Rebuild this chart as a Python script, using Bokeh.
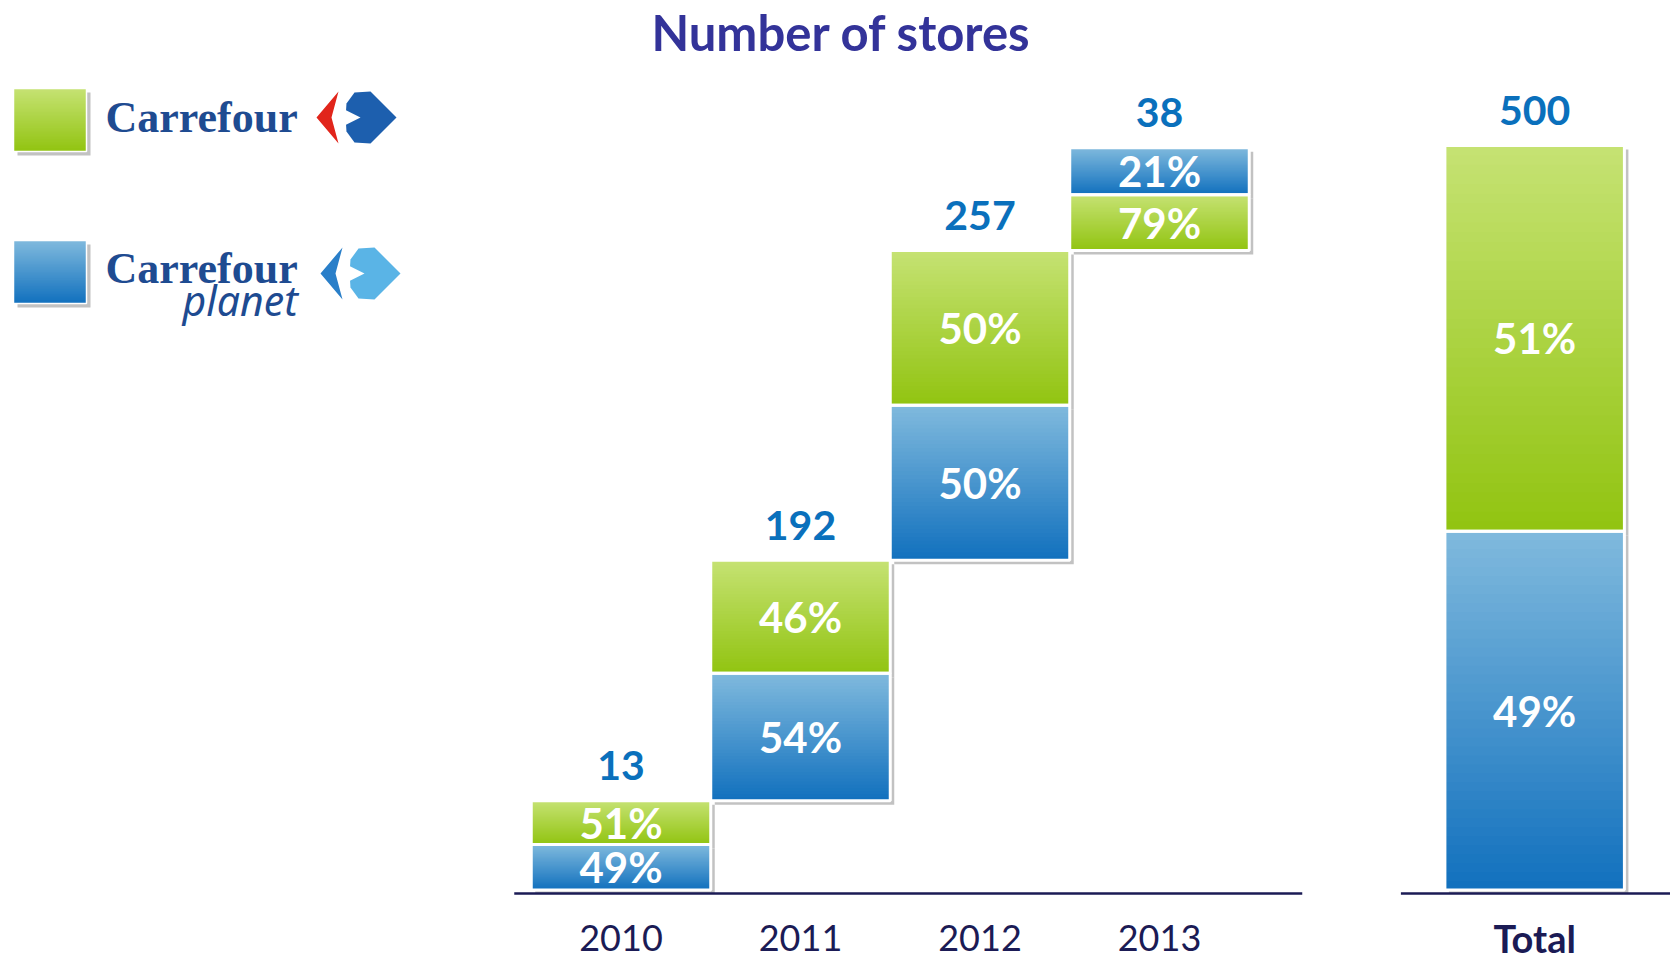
import numpy as np
from bokeh.plotting import figure
from bokeh.models import Range1d
from bokeh.embed import file_html
from bokeh.resources import INLINE
from bokeh.core.properties import value

# ---------------- data ----------------
categories = ["2010", "2011", "2012", "2013"]
total_category = "Total"
store_counts = [13, 192, 257, 38]
total_stores = 500
carrefour_share = ["51%", "46%", "50%", "79%", "51%"]
planet_share = ["49%", "54%", "50%", "21%", "49%"]
# drawn segment heights as shown on the slide (chart units, Total bar = 500)
carrefour_height = [29.5, 76, 104, 37.5, 259]
planet_height = [30.5, 85.5, 104, 31.5, 241]
planet_on_top = [False, False, False, True, False]
legend_names = ["Carrefour", "Carrefour planet"]

# ---------------- styles ----------------
GREEN_TOP, GREEN_BOT = (197, 226, 114), (146, 196, 18)
BLUE_TOP, BLUE_BOT = (127, 185, 221), (18, 113, 190)
SHADOW = "#C2C2C2"
NAVY = "#1B1B55"
COUNT_BLUE = "#0A70BC"
TITLE_COL = "#333399"
LOGO_BLUE = "#1E4B91"
FONT = value("Lato")

W, H = 1670, 959
SX = 179.5          # px per category slot
SY = 1.489          # px per chart unit
X_START = -620.5 / SX
X_END = X_START + W / SX
Y_END = 889.5 / SY
Y_START = Y_END - H / SY


def rx(px):
    return X_START + px / SX


def ry(py):
    return Y_END - py / SY


p = figure(width=W, height=H, x_range=Range1d(X_START, X_END), y_range=Range1d(Y_START, Y_END),
           output_backend="svg", toolbar_location=None, min_border=0,
           x_axis_location=None, y_axis_location=None)
p.grid.visible = False
p.outline_line_color = None
p.background_fill_color = "white"
p.border_fill_color = "white"

# ---------------- segment geometry ----------------
n = len(categories)
xpos = list(range(n)) + [n + 1.09]
segs = []  # (left, right, bottom, top, series, label)
cum = 0.0
bar_tops = []
for i in range(n + 1):
    base = cum if i < n else 0.0
    c_h, p_h = carrefour_height[i], planet_height[i]
    if planet_on_top[i]:
        order = [("g", c_h, carrefour_share[i]), ("b", p_h, planet_share[i])]
    else:
        order = [("b", p_h, planet_share[i]), ("g", c_h, carrefour_share[i])]
    b = base
    for s, h, lab in order:
        segs.append((xpos[i] - 0.5, xpos[i] + 0.5, b, b + h, s, lab))
        b += h
    bar_tops.append(b)
    if i < n:
        cum = b

dx, dy = 4 / SX, 4 / SY

# shadows
p.quad(left=[s[0] + dx for s in segs], right=[s[1] + dx for s in segs],
       bottom=[s[2] - dy for s in segs], top=[s[3] - dy for s in segs],
       fill_color=SHADOW, line_color=None)


def hexc(c):
    return "#%02x%02x%02x" % tuple(int(round(v)) for v in c)


def gradient(rects, N=40):
    L, R, B, T, C = [], [], [], [], []
    for (l, r, b, t, s) in rects:
        c0, c1 = (GREEN_TOP, GREEN_BOT) if s == "g" else (BLUE_TOP, BLUE_BOT)
        for j in range(N):
            f = j / (N - 1)
            L.append(l); R.append(r); B.append(b)
            T.append(t - (t - b) * j / N)
            C.append(hexc([c0[k] + (c1[k] - c0[k]) * f for k in range(3)]))
    p.quad(left=L, right=R, bottom=B, top=T, fill_color=C, line_color=None)


gradient([(s[0], s[1], s[2], s[3], s[4]) for s in segs])
p.quad(left=[s[0] for s in segs], right=[s[1] for s in segs],
       bottom=[s[2] for s in segs], top=[s[3] for s in segs],
       fill_color=None, line_color="white", line_width=3)

# percentage labels
p.text(x=[(s[0] + s[1]) / 2 for s in segs], y=[(s[2] + s[3]) / 2 for s in segs],
       text=[s[5] for s in segs], text_font=FONT, text_font_style="bold",
       text_font_size="42px", text_color="white", text_align="center", text_baseline="middle")

# count labels
counts = [str(c) for c in store_counts] + [str(total_stores)]
p.text(x=xpos, y=[t + 35 / SY for t in bar_tops], text=counts, text_font=FONT,
       text_font_style="bold", text_font_size="41px", text_color=COUNT_BLUE,
       text_align="center", text_baseline="middle")

# base lines
line_y = -3.5 / SY
p.segment(x0=[-0.5 - 17 / SX, xpos[-1] - 0.5 - 44 / SX], y0=[line_y, line_y],
          x1=[n - 0.5 + 53 / SX, X_END], y1=[line_y, line_y], line_color=NAVY, line_width=2.5)

# category labels
p.text(x=xpos[:n], y=[-47.5 / SY] * n, text=categories, text_font=FONT,
       text_font_size="36px", text_color=NAVY, text_align="center", text_baseline="middle")
p.text(x=[xpos[-1]], y=[-47.5 / SY], text=[total_category], text_font=FONT, text_font_style="bold",
       text_font_size="38px", text_color=NAVY, text_align="center", text_baseline="middle")

# title
p.text(x=[rx(841)], y=[ry(31)], text=["Number of stores"], text_font=FONT, text_font_style="bold",
       text_font_size="49px", text_color=TITLE_COL, text_align="center", text_baseline="middle")

# ---------------- legend ----------------
leg = [(rx(13), rx(86), ry(151), ry(88), "g"), (rx(13), rx(86), ry(303), ry(240), "b")]
p.quad(left=[l[0] + dx for l in leg], right=[l[1] + dx for l in leg],
       bottom=[l[2] - dy for l in leg], top=[l[3] - dy for l in leg], fill_color=SHADOW, line_color=None)
gradient(leg)
p.quad(left=[l[0] for l in leg], right=[l[1] for l in leg], bottom=[l[2] for l in leg],
       top=[l[3] for l in leg], fill_color=None, line_color="white", line_width=1.5)

p.text(x=[rx(105), rx(105)], y=[ry(117), ry(268)], text=["Carrefour", "Carrefour"],
       text_font=value("Liberation Serif"), text_font_style="bold", text_font_size="44px",
       text_color=LOGO_BLUE, text_align="left", text_baseline="middle")
p.text(x=[rx(182)], y=[ry(299)], text=["planet"], text_font=value("Noto Sans"),
       text_font_style="italic", text_font_size="41px", text_color=LOGO_BLUE,
       text_align="left", text_baseline="middle")


# emblems (decorative)
def emblem(ox, oy, chev_col, blob_col):
    chev = [(24, 0), (2, 26), (24, 52), (17, 26)]
    blob = [(40, 1), (56, 0), (82, 26), (56, 52), (40, 51), (32, 40), (31, 26), (32, 12)]
    notch = [(30, 18), (46, 26), (30, 34)]
    xs = [[rx(ox + a) for a, b in poly] for poly in (chev, blob, notch)]
    ys = [[ry(oy + b) for a, b in poly] for poly in (chev, blob, notch)]
    p.patches(xs=xs, ys=ys, fill_color=[chev_col, blob_col, "white"], line_color=None)


emblem(314, 91, "#E1251B", "#1D5FAE")
emblem(318, 247, "#2A7FC9", "#5AB4E6")

open("out.html", "w").write(file_html(p, INLINE))
